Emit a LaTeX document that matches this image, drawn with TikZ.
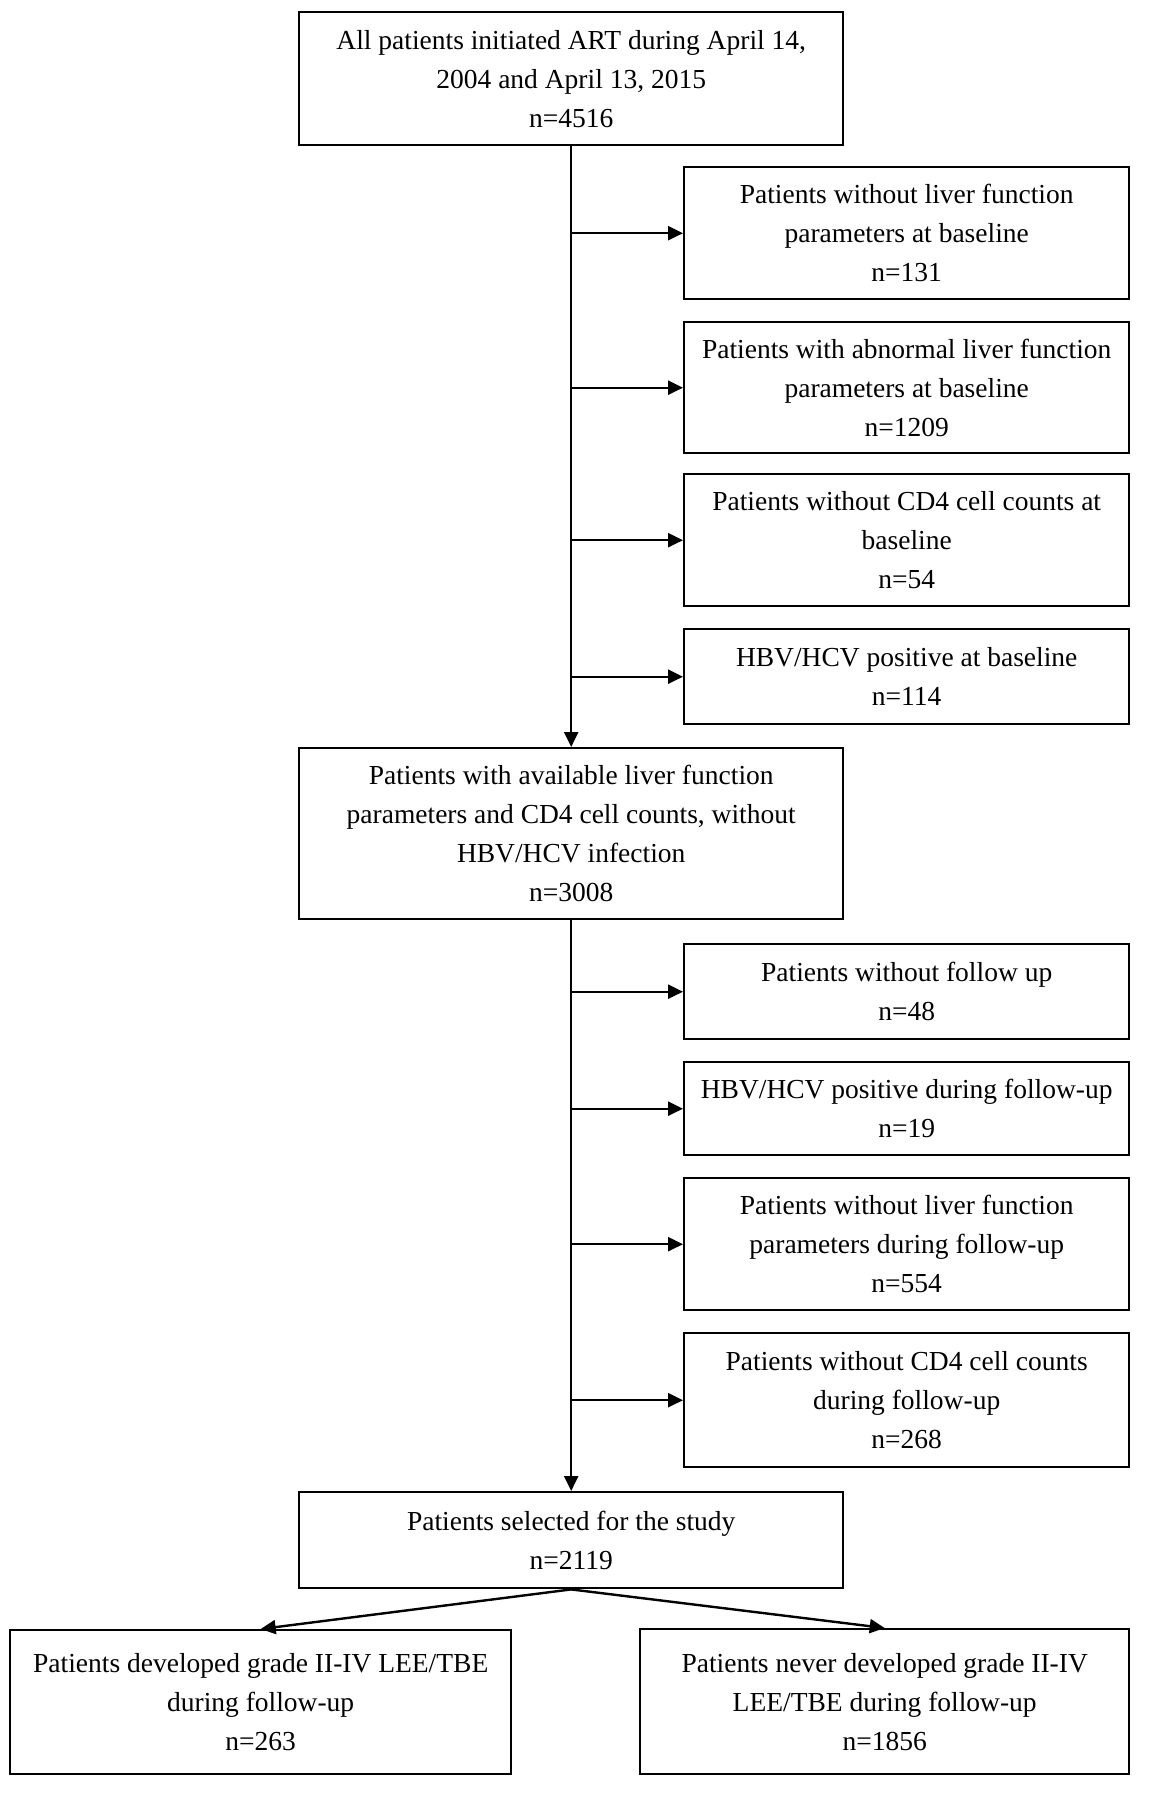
\documentclass[tikz,border=0pt]{standalone}
\usepackage{fontspec}
\setmainfont{Liberation Serif}
\usetikzlibrary{arrows.meta,positioning}
\begin{document}
\begin{tikzpicture}[x=1pt,y=-1pt,
  box/.style={draw,line width=2.4pt,anchor=north west,inner sep=0pt,align=center,
    font=\fontsize{27.5}{39}\selectfont},
  arr/.style={line width=2.4pt,-{Triangle[length=15pt,width=14pt]}}]
\useasboundingbox (0,0) rectangle (1151,1800);
\node[box,minimum width=544pt,minimum height=133pt] (top) at (298,11)
  {All patients initiated ART during April 14,\\2004 and April 13, 2015\\n=4516};
\node[box,minimum width=445pt,minimum height=132pt] (r1) at (683,166)
  {Patients without liver function\\parameters at baseline\\n=131};
\node[box,minimum width=445pt,minimum height=131pt] (r2) at (683,321)
  {Patients with abnormal liver function\\parameters at baseline\\n=1209};
\node[box,minimum width=445pt,minimum height=132pt] (r3) at (683,473)
  {Patients without CD4 cell counts at\\baseline\\n=54};
\node[box,minimum width=445pt,minimum height=95pt] (r4) at (683,628)
  {HBV/HCV positive at baseline\\n=114};
\node[box,minimum width=544pt,minimum height=171pt] (mid) at (298,747)
  {Patients with available liver function\\parameters and CD4 cell counts, without\\HBV/HCV infection\\n=3008};
\node[box,minimum width=445pt,minimum height=95pt] (r5) at (683,943)
  {Patients without follow up\\n=48};
\node[box,minimum width=445pt,minimum height=93pt] (r6) at (683,1061)
  {HBV/HCV positive during follow-up\\n=19};
\node[box,minimum width=445pt,minimum height=132pt] (r7) at (683,1177)
  {Patients without liver function\\parameters during follow-up\\n=554};
\node[box,minimum width=445pt,minimum height=134pt] (r8) at (683,1332)
  {Patients without CD4 cell counts\\during follow-up\\n=268};
\node[box,minimum width=544pt,minimum height=96pt] (sel) at (298,1491)
  {Patients selected for the study\\n=2119};
\node[box,minimum width=501pt,minimum height=144pt] (bl) at (9,1629)
  {Patients developed grade II-IV LEE/TBE\\during follow-up\\n=263};
\node[box,minimum width=489pt,minimum height=145pt] (br) at (639,1628)
  {Patients never developed grade II-IV\\LEE/TBE during follow-up\\n=1856};
\draw[arr] (top.south) -- (mid.north);
\foreach \r in {r1,r2,r3,r4} \draw[arr] (top.south |- \r.west) -- (\r.west);
\draw[arr] (mid.south) -- (sel.north);
\foreach \r in {r5,r6,r7,r8} \draw[arr] (mid.south |- \r.west) -- (\r.west);
\draw[arr] (sel.south) -- (bl.north);
\draw[arr] (sel.south) -- (br.north);
\end{tikzpicture}
\end{document}
